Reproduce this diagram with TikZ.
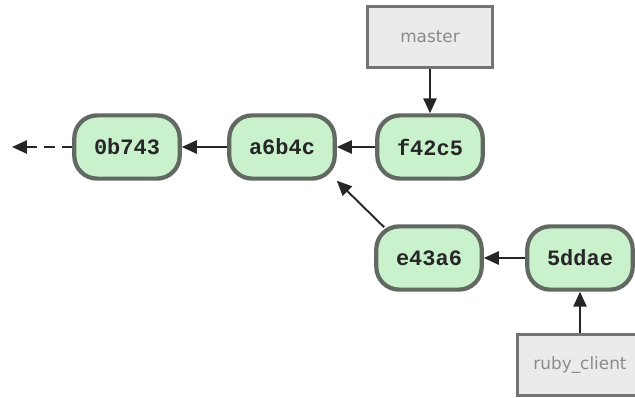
\documentclass[tikz,border=0pt]{standalone}
\usepackage{fontspec}
\setmainfont{DejaVu Sans}
\newfontfamily\commitfont{Liberation Mono}
\usetikzlibrary{arrows.meta}
\definecolor{commitfill}{HTML}{C9F1CC}
\definecolor{commitdraw}{HTML}{626862}
\definecolor{reffill}{HTML}{EBEBEB}
\definecolor{refdraw}{HTML}{747474}
\definecolor{reftext}{HTML}{8A8A8A}
\tikzset{
  commit/.style={draw=commitdraw, fill=commitfill, line width=2.4pt, rounded corners=13pt,
    minimum width=60pt, minimum height=36pt, inner sep=0pt,
    font=\commitfont\bfseries\fontsize{12.5}{14}\selectfont, text=black!85},
  ref/.style={draw=refdraw, fill=reffill, line width=1.8pt,
    minimum width=71pt, minimum height=35pt, inner sep=0pt,
    font=\fontsize{9.6}{11}\selectfont, text=reftext},
  link/.style={line width=1.1pt, draw=black!85, -{Triangle[length=8.5pt,width=7.5pt]}}
}
\begin{document}
\begin{tikzpicture}[x=0.02cm,y=-0.02cm]
\useasboundingbox (0,0) rectangle (635,398);
\begin{scope}
\clip (0,0) rectangle (635,398);
\node[commit] (c0) at (127,147) {0b743};
\node[commit] (c1) at (282,147) {a6b4c};
\node[commit] (c2) at (430,147) {f42c5};
\node[commit] (c3) at (429,258) {e43a6};
\node[commit] (c4) at (580,258) {5ddae};
\node[ref] (master) at (430,37) {master};
\node[ref] (ruby) at (580,365) {ruby\_client};
\coordinate (tail) at (12,147);
\draw[link, dashed, dash pattern=on 6pt off 4pt] (c0) -- (tail);
\draw[link] (c1) -- (c0);
\draw[link] (c2) -- (c1);
\draw[link] (c4) -- (c3);
\draw[link] (c3.north west) ++(10,3) coordinate (s) -- (c1.south east);
\draw[link] (master) -- (c2);
\draw[link] (ruby) -- (c4);
\end{scope}
\end{tikzpicture}
\end{document}
